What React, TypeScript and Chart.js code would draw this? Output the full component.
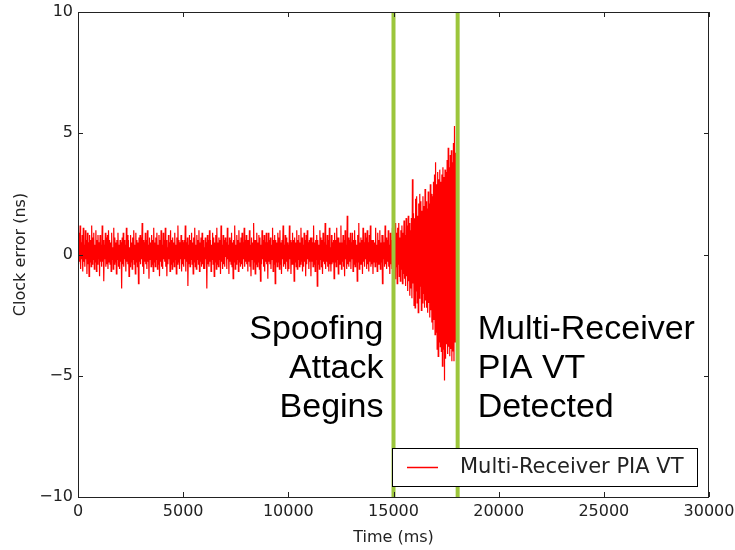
import React, { useEffect, useRef } from "react";
import { Chart, registerables } from "chart.js";

Chart.register(...registerables);

// Time step of the recorded samples (ms)
const sampleStepMs = 25;

// Clock error (ns), one value every 25 ms from 0 ms (40 per second)
const clockErrorNs = [
  // 0 s
  0.7, -0.4, 0.9, -0.3, 1.2, -0.6, 0.5, -0.2, 0.8, -0.7, 1.1, -0.3, 0.4, -0.5, 1.0, -0.2, 0.6, -0.8, 0.9, -0.4,
  0.5, -0.9, 0.8, -0.3, 0.6, -0.5, 1.2, -0.4, 0.7, -0.2, 0.9, -0.6, 0.4, -0.3, 1.0, -0.7, 0.6, -0.4, 0.8, -0.2,
  // 1 s
  0.5, -0.9, 0.8, -0.3, 0.4, -0.5, 1.2, -0.3, 0.6, -1.1, 0.4, -0.2, 0.9, -0.5, 0.7, -0.4, 0.8, -0.6, 1.0, -0.3,
  0.6, -0.4, 0.5, -0.7, 0.9, -0.2, 0.3, -0.6, 1.1, -0.4, 0.7, -0.3, 0.5, -0.8, 0.6, -0.2, 0.9, -0.5, 0.4, -0.6,
  // 2 s
  0.6, -0.3, 0.5, -1.4, 0.7, -0.4, 0.9, -0.5, 0.6, -0.2, 0.4, -0.7, 1.1, -0.3, 0.8, -0.4, 0.6, -0.9, 0.3, -0.5,
  0.8, -0.3, 0.5, -0.6, 0.7, -0.2, 1.0, -0.4, 0.4, -0.8, 0.9, -0.3, 0.6, -0.5, 0.5, -1.2, 0.7, -0.3, 0.8, -0.4,
  // 3 s
  0.7, -0.2, 1.3, -0.5, 0.6, -0.8, 0.5, -0.3, 0.9, -0.4, 0.6, -0.6, 1.0, -0.3, 0.4, -1.0, 0.7, -0.2, 0.5, -0.5,
  0.8, -0.4, 0.6, -0.7, 1.1, -0.3, 0.5, -0.5, 0.7, -0.2, 0.9, -0.6, 0.4, -0.4, 0.8, -0.9, 0.6, -0.3, 1.0, -0.5,
  // 4 s
  0.4, -0.6, 0.9, -0.2, 0.6, -0.3, 1.1, -0.5, 0.6, -0.9, 0.3, -0.4, 0.8, -0.2, 0.5, -0.7, 1.0, -0.4, 0.6, -0.6,
  0.7, -0.3, 0.5, -0.5, 0.9, -0.2, 0.4, -0.8, 0.7, -0.4, 1.2, -0.3, 0.6, -0.6, 0.5, -0.2, 0.8, -0.7, 0.6, -0.4,
  // 5 s
  0.5, -0.5, 0.6, -0.2, 1.2, -0.7, 0.5, -0.3, 0.7, -1.3, 0.4, -0.4, 0.8, -0.5, 0.6, -0.2, 0.9, -0.4, 0.5, -0.8,
  0.7, -0.3, 1.1, -0.5, 0.4, -0.6, 0.8, -0.2, 0.6, -0.4, 1.0, -0.7, 0.5, -0.3, 0.7, -0.5, 0.9, -0.4, 0.6, -0.6,
  // 6 s
  0.3, -0.6, 0.7, -0.2, 0.5, -1.4, 0.8, -0.4, 0.6, -0.5, 1.0, -0.3, 0.6, -0.7, 0.4, -0.2, 0.9, -0.4, 0.7, -0.9,
  0.5, -0.3, 0.8, -0.6, 1.1, -0.4, 0.5, -0.5, 0.7, -0.2, 0.6, -0.8, 1.2, -0.3, 0.4, -0.6, 0.8, -0.4, 0.6, -0.5,
  // 7 s
  0.7, -0.1, 0.5, -0.6, 1.1, -0.2, 0.4, -0.8, 0.7, -0.3, 0.6, -0.4, 0.9, -0.5, 0.5, -1.0, 0.6, -0.3, 1.2, -0.6,
  0.4, -0.4, 0.8, -0.2, 0.6, -0.7, 1.0, -0.3, 0.5, -0.5, 0.7, -0.4, 0.9, -0.6, 0.5, -0.2, 1.1, -0.5, 0.6, -0.3,
  // 8 s
  0.8, -0.4, 0.6, -0.7, 0.6, -0.3, 1.0, -0.5, 0.4, -0.9, 0.7, -0.2, 0.5, -0.6, 1.3, -0.3, 0.6, -0.8, 0.6, -0.4,
  0.9, -0.5, 0.5, -0.3, 0.8, -0.6, 0.7, -1.1, 0.4, -0.4, 1.0, -0.2, 0.6, -0.5, 0.8, -0.7, 0.5, -0.3, 0.9, -0.4,
  // 9 s
  0.5, -1.0, 0.9, -0.3, 0.6, -0.4, 0.7, -0.6, 0.4, -0.2, 1.1, -0.7, 0.6, -0.4, 0.8, -1.2, 0.6, -0.3, 0.5, -0.5,
  0.9, -0.3, 0.7, -0.6, 1.0, -0.4, 0.5, -0.8, 0.6, -0.2, 1.2, -0.5, 0.4, -0.4, 0.8, -0.6, 0.7, -0.3, 0.5, -0.7,
  // 10 s
  0.4, -0.6, 1.2, -0.2, 0.6, -0.8, 0.5, -0.4, 0.9, -0.4, 0.6, -1.1, 0.7, -0.3, 0.5, -0.5, 1.0, -0.6, 0.6, -0.2,
  0.8, -0.5, 0.5, -0.4, 1.1, -0.3, 0.7, -0.7, 0.4, -0.5, 0.9, -0.3, 0.6, -0.9, 0.8, -0.4, 1.0, -0.2, 0.5, -0.6,
  // 11 s
  0.6, -0.3, 0.7, -0.9, 0.7, -0.3, 0.5, -0.5, 1.2, -0.4, 0.5, -0.7, 0.6, -0.2, 0.8, -1.3, 0.6, -0.4, 0.4, -0.6,
  1.0, -0.2, 0.7, -0.5, 0.6, -0.8, 0.9, -0.3, 0.5, -0.4, 1.3, -0.6, 0.4, -0.3, 0.8, -0.5, 0.6, -0.7, 1.1, -0.4,
  // 12 s
  0.3, -0.7, 0.8, -0.4, 0.5, -0.3, 0.6, -1.0, 0.9, -0.3, 0.6, -0.5, 1.1, -0.2, 0.7, -0.8, 0.7, -0.4, 0.5, -0.4,
  1.2, -0.6, 0.5, -0.3, 0.8, -0.5, 0.6, -0.9, 1.0, -0.2, 0.4, -0.6, 1.6, -0.4, 0.7, -0.5, 0.6, -0.3, 0.9, -0.6,
  // 13 s
  0.5, -0.2, 0.9, -0.7, 0.6, -0.4, 1.0, -0.5, 0.6, -0.3, 0.4, -1.1, 0.8, -0.3, 1.3, -0.6, 0.5, -0.4, 0.7, -0.4,
  0.6, -0.8, 1.1, -0.3, 0.5, -0.5, 0.9, -0.2, 0.7, -0.6, 1.0, -0.4, 0.5, -0.7, 0.8, -0.3, 1.2, -0.5, 0.6, -0.4,
  // 14 s
  0.6, -0.8, 0.6, -0.3, 0.5, -0.5, 1.1, -0.3, 0.4, -0.7, 0.9, -0.4, 0.6, -0.4, 1.0, -0.6, 0.5, -0.3, 0.8, -1.2,
  0.8, -0.2, 0.5, -0.5, 1.2, -0.4, 0.7, -0.6, 0.6, -0.3, 1.0, -0.5, 0.4, -0.8, 0.9, -0.4, 0.6, -0.6, 1.1, -0.3,
  // 15 s (spoofing attack begins)
  0.8, -0.7, 1.2, -1.0, 1.3, -0.5, 0.9, -1.2, 1.1, -0.4, 1.3, -0.9, 0.7, -1.1, 1.0, -0.6, 1.2, -1.2, 0.9, -0.8,
  1.4, -1.0, 0.8, -1.3, 1.5, -0.9, 1.2, -1.5, 1.6, -1.1, 1.3, -1.7, 1.0, -1.4, 1.5, -1.8, 3.1, -1.2, 1.7, -2.1,
  // 16 s
  1.5, -2.2, 2.3, -1.5, 2.4, -2.0, 1.6, -2.4, 2.1, -1.8, 2.5, -1.3, 2.2, -2.3, 1.8, -2.0, 2.4, -1.6, 2.0, -2.2,
  2.7, -1.9, 2.2, -2.2, 1.9, -2.4, 2.6, -2.0, 2.1, -2.6, 2.9, -2.3, 2.5, -2.8, 2.4, -3.1, 3.0, -2.7, 3.3, -3.3,
  // 17 s
  3.8, -3.2, 2.9, -3.9, 3.4, -4.2, 3.1, -3.6, 3.5, -3.8, 3.0, -4.0, 3.3, -4.6, 3.6, -3.9, 3.2, -5.2, 3.5, -4.3,
  3.4, -3.7, 3.9, -4.1, 4.4, -3.8, 3.6, -4.2, 4.1, -3.9, 4.3, -4.4, 3.8, -4.0, 4.6, -4.4, 5.3, -3.6, 4.2, -2.8,
];

// Event markers (ms): attack begins, PIA VT detection
const eventTimesMs = [15000, 18050];

const leftNoteLines = ["Spoofing", "Attack", "Begins"];
const rightNoteLines = ["Multi-Receiver", "PIA VT", "Detected"];

const xTicks = [0, 5000, 10000, 15000, 20000, 25000, 30000];
const yTicks = [-10, -5, 0, 5, 10];

const seriesLabel = "Multi-Receiver PIA VT";
const xTitle = "Time (ms)";
const yTitle = "Clock error (ns)";

const TICK_FONT = "DejaVu Sans";
const NOTE_FONT = "Liberation Sans";

const overlayPlugin = {
  id: "overlay",
  afterDatasetsDraw(chart: any) {
    const { ctx, chartArea: a, scales } = chart;
    const xs = scales.x;
    const ys = scales.y;
    ctx.save();

    // event markers
    ctx.strokeStyle = "#9cc63c";
    ctx.lineWidth = 4;
    eventTimesMs.forEach((t) => {
      const px = xs.getPixelForValue(t);
      ctx.beginPath();
      ctx.moveTo(px, a.top);
      ctx.lineTo(px, a.bottom);
      ctx.stroke();
    });

    // frame
    ctx.strokeStyle = "#222";
    ctx.lineWidth = 1;
    ctx.strokeRect(a.left + 0.5, a.top + 0.5, a.right - a.left - 1, a.bottom - a.top);

    // inward ticks on all four sides
    const tl = 5;
    ctx.beginPath();
    xTicks.forEach((v) => {
      const px = Math.round(xs.getPixelForValue(v)) + 0.5;
      ctx.moveTo(px, a.bottom);
      ctx.lineTo(px, a.bottom - tl);
      ctx.moveTo(px, a.top);
      ctx.lineTo(px, a.top + tl);
    });
    yTicks.forEach((v) => {
      const py = Math.round(ys.getPixelForValue(v)) + 0.5;
      ctx.moveTo(a.left, py);
      ctx.lineTo(a.left + tl, py);
      ctx.moveTo(a.right, py);
      ctx.lineTo(a.right - tl, py);
    });
    ctx.stroke();

    // annotations
    ctx.fillStyle = "#000";
    ctx.font = `34px "${NOTE_FONT}"`;
    ctx.textBaseline = "alphabetic";
    const baselines = [339, 378, 417];
    const leftX = xs.getPixelForValue(eventTimesMs[0]) - 10;
    const rightX = xs.getPixelForValue(eventTimesMs[1]) + 20;
    ctx.textAlign = "right";
    leftNoteLines.forEach((s, i) => ctx.fillText(s, leftX, baselines[i]));
    ctx.textAlign = "left";
    rightNoteLines.forEach((s, i) => ctx.fillText(s, rightX, baselines[i]));

    // legend
    const lx = 392, ly = 448, lw = 305, lh = 38;
    ctx.fillStyle = "#fff";
    ctx.fillRect(lx, ly, lw, lh);
    ctx.strokeStyle = "#000";
    ctx.lineWidth = 1;
    ctx.strokeRect(lx + 0.5, ly + 0.5, lw, lh);
    ctx.strokeStyle = "#ff0000";
    ctx.lineWidth = 1.5;
    ctx.beginPath();
    ctx.moveTo(407, ly + lh / 2 + 0.5);
    ctx.lineTo(438, ly + lh / 2 + 0.5);
    ctx.stroke();
    ctx.fillStyle = "#222";
    ctx.font = `21px "${TICK_FONT}"`;
    ctx.textAlign = "left";
    ctx.textBaseline = "middle";
    ctx.fillText(seriesLabel, 460, ly + lh / 2 + 1);

    ctx.restore();
  },
};

export default function App() {
  const ref = useRef<HTMLCanvasElement | null>(null);

  useEffect(() => {
    if (!ref.current) return;
    const points = clockErrorNs.map((v, i) => ({ x: i * sampleStepMs, y: v }));
    const chart = new Chart(ref.current, {
      type: "line",
      data: {
        datasets: [
          {
            label: seriesLabel,
            data: points,
            borderColor: "#ff0000",
            borderWidth: 1.2,
            pointRadius: 0,
            tension: 0,
            fill: false,
          },
        ],
      },
      options: {
        responsive: false,
        animation: false,
        devicePixelRatio: 1,
        layout: { padding: { left: 0, right: 26, top: 12, bottom: 0 } },
        plugins: { legend: { display: false }, tooltip: { enabled: false } },
        scales: {
          x: {
            type: "linear",
            min: 0,
            max: 30000,
            afterBuildTicks: (s: any) => {
              s.ticks = xTicks.map((v) => ({ value: v }));
            },
            afterFit: (s: any) => {
              s.height = 53;
              s.paddingLeft = 0;
              s.paddingRight = 0;
            },
            grid: { display: false, drawTicks: false },
            border: { display: false },
            ticks: {
              color: "#222",
              font: { family: TICK_FONT, size: 16 },
              padding: 5,
              maxRotation: 0,
              autoSkip: false,
              callback: (v: any) => String(v),
            },
            title: {
              display: true,
              text: xTitle,
              color: "#222",
              font: { family: TICK_FONT, size: 16 },
              padding: { top: 0, bottom: 3 },
            },
          },
          y: {
            type: "linear",
            min: -10,
            max: 10,
            afterBuildTicks: (s: any) => {
              s.ticks = yTicks.map((v) => ({ value: v }));
            },
            afterFit: (s: any) => {
              s.width = 78;
              s.paddingTop = 0;
              s.paddingBottom = 0;
            },
            grid: { display: false, drawTicks: false },
            border: { display: false },
            ticks: {
              color: "#222",
              font: { family: TICK_FONT, size: 16 },
              padding: 5,
              callback: (v: any) => (v < 0 ? "\u2212" + Math.abs(v) : String(v)),
            },
            title: {
              display: true,
              text: yTitle,
              color: "#222",
              font: { family: TICK_FONT, size: 16 },
              padding: { top: 11, bottom: 0 },
            },
          },
        },
      },
      plugins: [overlayPlugin],
    });
    return () => chart.destroy();
  }, []);

  return (
    <div style={{ position: "absolute", left: 0, top: 0, width: 735, height: 550, background: "#fff" }}>
      <canvas ref={ref} width={735} height={550} />
    </div>
  );
}
